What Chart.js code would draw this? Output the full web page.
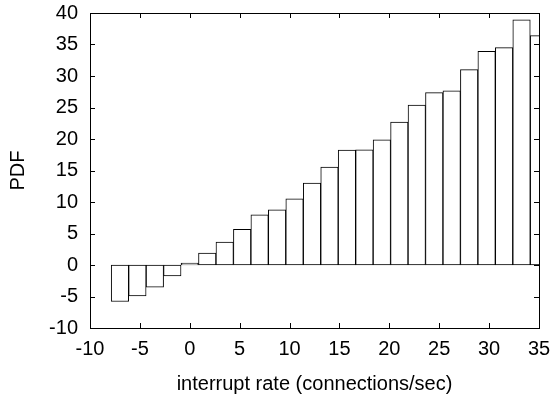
<!DOCTYPE html>
<html>
<head>
<meta charset="utf-8">
<script src="https://cdn.jsdelivr.net/npm/chart.js@4.4.1/dist/chart.umd.min.js"></script>
<style>
  html, body { margin: 0; padding: 0; background: #fff; }
  #wrap { width: 554px; height: 394px; }
</style>
</head>
<body>
<div id="wrap"><canvas id="chart"></canvas></div>
<script>
/* =========================
   DATA
========================= */
const binCenters = [-7, -5.25, -3.5, -1.75, 0, 1.75, 3.5, 5.25, 7, 8.75, 10.5, 12.25,
  14, 15.75, 17.5, 19.25, 21, 22.75, 24.5, 26.25, 28, 29.75, 31.5, 33.25, 35];
const pdfValues = [-5.8, -4.9, -3.5, -1.75, 0.3, 1.9, 3.65, 5.65, 7.95, 8.75, 10.5, 13.0,
  15.55, 18.25, 18.3, 19.85, 22.7, 25.4, 27.35, 27.65, 31.0, 33.9, 34.5, 38.9, 36.4];
const xTicks = [-10, -5, 0, 5, 10, 15, 20, 25, 30, 35];
const yTicks = [-10, -5, 0, 5, 10, 15, 20, 25, 30, 35, 40];

const FONT = { family: "'Liberation Sans', Arial, sans-serif", size: 20 };
const TITLE_FONT = { family: "'Liberation Sans', Arial, sans-serif", size: 20, lineHeight: 1 };

/* =========================
   FRAME + INWARD TICKS
========================= */
const frameTicks = {
  id: "frameTicks",
  afterDraw(chart) {
    const { ctx, chartArea: a, scales } = chart;
    const len = 5;
    ctx.save();
    ctx.strokeStyle = "#000";
    ctx.lineWidth = 1;
    ctx.beginPath();
    xTicks.forEach(v => {
      const px = Math.round(scales.x.getPixelForValue(v)) + 0.5;
      ctx.moveTo(px, a.bottom); ctx.lineTo(px, a.bottom - len);
      ctx.moveTo(px, a.top); ctx.lineTo(px, a.top + len);
    });
    yTicks.forEach(v => {
      const py = Math.round(scales.y.getPixelForValue(v)) + 0.5;
      ctx.moveTo(a.left, py); ctx.lineTo(a.left + len, py);
      ctx.moveTo(a.right, py); ctx.lineTo(a.right - len, py);
    });
    ctx.stroke();
    ctx.strokeRect(Math.round(a.left) + 0.5, Math.round(a.top) + 0.5,
      Math.round(a.right - a.left), Math.round(a.bottom - a.top));
    ctx.restore();
  }
};

// drop the label overhang so layout.padding alone sets the plot box
function noOverhang(s) {
  s.paddingTop = 0;
  s.paddingBottom = 0;
  s.paddingLeft = 0;
  s.paddingRight = 0;
}

/* =========================
   CHART
========================= */
new Chart(document.getElementById("chart"), {
  type: "bar",
  data: {
    datasets: [{
      data: binCenters.map((x, i) => ({ x, y: pdfValues[i] })),
      backgroundColor: "#fff",
      borderColor: "#000",
      borderWidth: 1,
      borderSkipped: false,
      barPercentage: 1,
      categoryPercentage: 1
    }]
  },
  options: {
    responsive: true,
    maintainAspectRatio: false,
    animation: false,
    layout: { padding: { top: 13, right: 15, left: 0, bottom: 0 } },
    plugins: { legend: { display: false }, tooltip: { enabled: false } },
    scales: {
      x: {
        type: "linear",
        offset: false,
        min: -10,
        max: 35,
        grid: { display: false, drawTicks: false },
        border: { display: false },
        afterBuildTicks: s => { s.ticks = xTicks.map(v => ({ value: v })); },
        afterFit: s => { s.height = 66; noOverhang(s); },
        ticks: { color: "#000", font: FONT, padding: 9, maxRotation: 0 },
        title: {
          display: true,
          text: "interrupt rate (connections/sec)",
          color: "#000",
          font: TITLE_FONT,
          padding: { top: 0, bottom: 0 }
        }
      },
      y: {
        min: -10,
        max: 40,
        grid: { display: false, drawTicks: false },
        border: { display: false },
        afterBuildTicks: s => { s.ticks = yTicks.map(v => ({ value: v })); },
        afterFit: s => { s.width = 90; noOverhang(s); },
        ticks: { color: "#000", font: FONT, padding: 12 },
        title: {
          display: true,
          text: "PDF",
          color: "#000",
          font: TITLE_FONT,
          padding: { top: 8, bottom: 0 }
        }
      }
    }
  },
  plugins: [frameTicks]
});
</script>
</body>
</html>
